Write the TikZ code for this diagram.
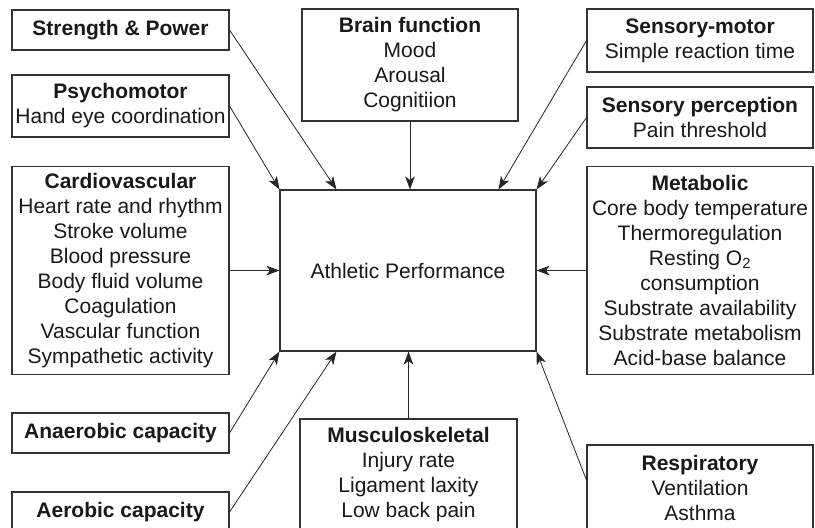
\documentclass[tikz,border=0pt]{standalone}
\usepackage{fontspec}
\setmainfont{Liberation Sans}
\usetikzlibrary{arrows.meta}
\begin{document}
\begin{tikzpicture}[x=1pt,y=-1pt,
  box/.style={draw=black!80, line width=1.1pt, inner sep=0pt, align=center,
    text=black!90, font=\fontsize{21}{25}\selectfont},
  link/.style={draw=black!85, line width=0.8pt,
    -{Stealth[length=13pt,width=9.5pt,inset=3.5pt]}}]
\useasboundingbox (0,0) rectangle (815,528);
\fill[white] (0,0) rectangle (815,528);
\clip (0,0) rectangle (815,528);

% central outcome
\node[box, minimum width=256pt, minimum height=161pt] (ap) at (408,270.5) {Athletic Performance};

% left column
\node[box, minimum width=217pt, minimum height=40pt] (str) at (120.5,30)
  {\textbf{Strength \& Power}};
\node[box, minimum width=217pt, minimum height=62pt] (psy) at (120.5,106)
  {\textbf{Psychomotor}\\Hand eye coordination};
\node[box, minimum width=217pt, minimum height=208pt] (car) at (120.5,270.5)
  {\textbf{Cardiovascular}\\Heart rate and rhythm\\Stroke volume\\Blood pressure\\Body fluid volume\\Coagulation\\Vascular function\\Sympathetic activity};
\node[box, minimum width=217pt, minimum height=40pt] (ana) at (120.5,433)
  {\textbf{Anaerobic capacity}};
\node[box, minimum width=217pt, minimum height=40pt] (aer) at (120.5,512)
  {\textbf{Aerobic capacity}};

% middle column
\node[box, minimum width=216pt, minimum height=112pt] (bra) at (410,65)
  {\textbf{Brain function}\\Mood\\Arousal\\Cognitiion};
\node[box, minimum width=217pt, minimum height=111pt] (mus) at (408.5,474.5)
  {\textbf{Musculoskeletal}\\Injury rate\\Ligament laxity\\Low back pain};

% right column
\node[box, minimum width=226pt, minimum height=63pt] (smo) at (700,40.5)
  {\textbf{Sensory-motor}\\Simple reaction time};
\node[box, minimum width=226pt, minimum height=61pt] (spe) at (700,117.5)
  {\textbf{Sensory perception}\\Pain threshold};
\node[box, minimum width=226pt, minimum height=208pt] (met) at (700,270.5)
  {\textbf{Metabolic}\\Core body temperature\\Thermoregulation\\Resting O\textsubscript{2}\\consumption\\Substrate availability\\Substrate metabolism\\Acid-base balance};
\node[box, minimum width=226pt, minimum height=86pt] (res) at (700,488)
  {\textbf{Respiratory}\\Ventilation\\Asthma};

% influences on performance
\draw[link] (str.east) -- ([xshift=57pt]ap.north west);
\draw[link] (psy.east) -- (ap.north west);
\draw[link] (bra.south) -- (bra.south |- ap.north);
\draw[link] (smo.west) -- ([xshift=-38pt]ap.north east);
\draw[link] (spe.west) -- (ap.north east);
\draw[link] (car.east) -- (ap.west);
\draw[link] (met.west) -- (ap.east);
\draw[link] (ana.east) -- (ap.south west);
\draw[link] (aer.east) -- ([xshift=57pt]ap.south west);
\draw[link] (mus.north) -- (mus.north |- ap.south);
\draw[link] ([yshift=8pt]res.west) -- (ap.south east);
\end{tikzpicture}
\end{document}
